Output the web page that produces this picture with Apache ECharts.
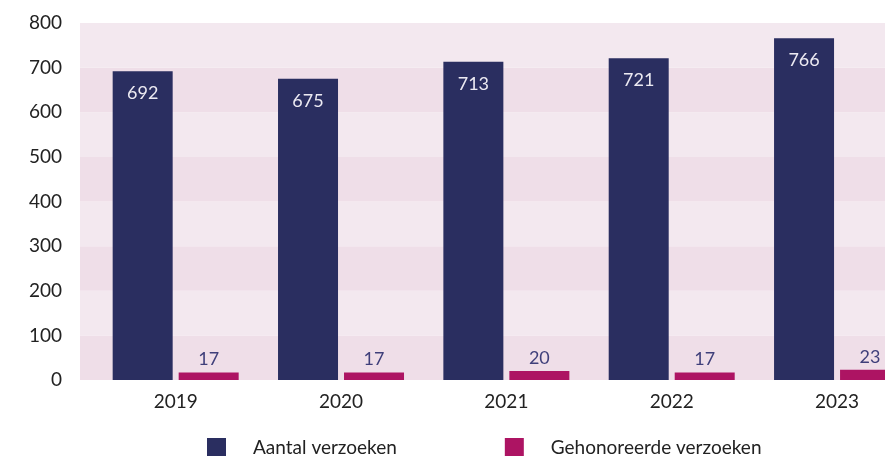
<!DOCTYPE html>
<html>
<head>
<meta charset="utf-8">
<script src="https://cdn.jsdelivr.net/npm/echarts@6/dist/echarts.min.js"></script>
<style>
  html, body { margin: 0; padding: 0; background: #fff; }
  #chart { width: 885px; height: 456px; }
</style>
</head>
<body>
<div id="chart"></div>
<script>
// data
const years = ["2019", "2020", "2021", "2022", "2023"];
const aantal = [692, 675, 713, 721, 766];
const gehonoreerd = [17, 17, 20, 17, 23];
const seriesNames = ["Aantal verzoeken", "Gehonoreerde verzoeken"];

const chart = echarts.init(document.getElementById("chart"));

const font = "Lato, 'Noto Sans', sans-serif";

// de grafiek loopt rechts buiten beeld: x-as als waarde-as met index per jaar
const xMin = -0.5;
const xMax = 4.29;

const option = {
  animation: false,
  textStyle: { fontFamily: font },
  legend: {
    left: 202,
    top: 433,
    icon: "rect",
    itemWidth: 19,
    itemHeight: 19,
    itemGap: 108,
    textStyle: {
      fontSize: 19,
      color: "#222",
      padding: [0, 0, 0, 22],
    },
    data: seriesNames,
  },
  grid: [
    // achtergrond met banden
    { left: 80, right: 0, top: 23, bottom: 76 },
    // de staven zelf
    { left: 93, right: 0, top: 23, bottom: 76 },
  ],
  xAxis: [
    {
      gridIndex: 0,
      type: "category",
      data: years,
      show: false,
    },
    {
      gridIndex: 1,
      type: "value",
      min: xMin,
      max: xMax,
      interval: 0.5,
      axisLine: { show: false },
      axisTick: { show: false },
      splitLine: { show: false },
      axisLabel: {
        fontSize: 19,
        color: "#222",
        margin: 12,
        showMaxLabel: false,
        formatter: (v) => (Number.isInteger(v) ? years[v] : ""),
      },
    },
  ],
  yAxis: [
    {
      gridIndex: 0,
      type: "value",
      min: 0,
      max: 800,
      interval: 100,
      axisLine: { show: false },
      axisTick: { show: false },
      splitLine: { show: false },
      splitArea: {
        show: true,
        areaStyle: { color: ["#efdee8", "#f3e8ef"] },
      },
      axisLabel: { fontSize: 19, color: "#222", margin: 18 },
    },
    {
      gridIndex: 1,
      type: "value",
      min: 0,
      max: 800,
      interval: 100,
      show: false,
    },
  ],
  series: [
    {
      name: seriesNames[0],
      type: "bar",
      xAxisIndex: 1,
      yAxisIndex: 1,
      data: aantal.map((v, i) => [i, v]),
      barWidth: 60,
      barGap: "10%",
      itemStyle: { color: "#2a2e60" },
      label: {
        show: true,
        position: "insideTop",
        distance: 13,
        fontSize: 18,
        color: "#eceaf2",
        formatter: (p) => p.value[1],
      },
    },
    {
      name: seriesNames[1],
      type: "bar",
      xAxisIndex: 1,
      yAxisIndex: 1,
      data: gehonoreerd.map((v, i) => [i, v]),
      barWidth: 60,
      barGap: "10%",
      itemStyle: { color: "#ad1463" },
      label: {
        show: true,
        position: "top",
        distance: 4,
        fontSize: 18,
        color: "#3f3f7a",
        formatter: (p) => p.value[1],
      },
    },
  ],
};

chart.setOption(option);
</script>
</body>
</html>
